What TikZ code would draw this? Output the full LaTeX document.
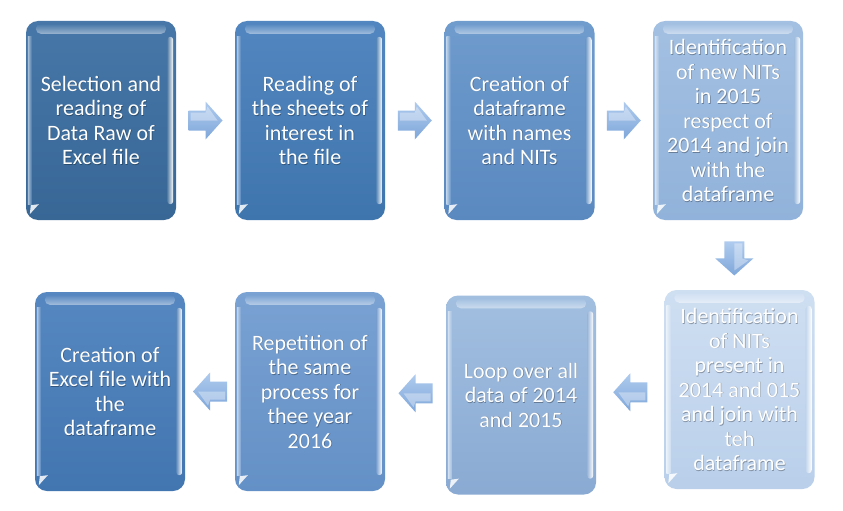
\documentclass[tikz,border=0pt]{standalone}
\usepackage{fontspec}
\setmainfont{Carlito}
\usetikzlibrary{calc}
\definecolor{c1t}{HTML}{4677A8}\definecolor{c1b}{HTML}{386796}
\definecolor{c2t}{HTML}{5286C0}\definecolor{c2b}{HTML}{3F75AD}
\definecolor{c3t}{HTML}{6F9BCD}\definecolor{c3b}{HTML}{5A89C0}
\definecolor{c4t}{HTML}{A3C0E2}\definecolor{c4b}{HTML}{91B2DA}
\definecolor{c5t}{HTML}{CFDFF2}\definecolor{c5b}{HTML}{B9CFEA}
\definecolor{c6t}{HTML}{A2BFE0}\definecolor{c6b}{HTML}{8AAAD3}
\definecolor{c7t}{HTML}{7AA2D3}\definecolor{c7b}{HTML}{6390C6}
\definecolor{c8t}{HTML}{5687C0}\definecolor{c8b}{HTML}{4276B0}
\definecolor{arrT}{HTML}{AFCBEE}\definecolor{arrB}{HTML}{7FA7DA}
\newcommand\gbox[5]{%
  \node[box,top color=#3,bottom color=#4] (#1) at (#2) {};
  \shade[top color=#3, bottom color=#3!55!white, rounded corners=5pt]
    ($(#1.north west)+(10,3)$) rectangle ($(#1.north east)+(-10,13)$);
  \shade[left color=#4!85!white, right color=white, rounded corners=3pt]
    ($(#1.north east)+(-9,16)$) rectangle ($(#1.south east)+(-3,-16)$);
  \shade[left color=white!55!#3, right color=#3]
    ($(#1.north west)+(2,16)$) rectangle ($(#1.south west)+(6,-16)$);
  \fill[white!85!#4] ($(#1.south west)+(4,-6)$) -- ($(#1.south west)+(5,-15)$)
    -- ($(#1.south west)+(13,-16)$) -- cycle;
  \node[boxtext,text=black!60!#4,opacity=0.5] at ([xshift=0.6pt,yshift=-0.6pt]#1.center) {#5};
  \node[boxtext] at (#1.center) {#5};
}
\begin{document}
\begin{tikzpicture}[x=1pt,y=-1pt,
  box/.style={rounded corners=12pt, minimum width=150pt, minimum height=199pt,
    inner sep=0pt},
  boxtext/.style={align=center, text=white, inner sep=0pt,
    font=\fontsize{22}{24.5}\selectfont},
  pics/blockarrow/.style={code={
    \shade[top color=arrT,bottom color=arrB]
      (-17,-10) -- (0,-10) -- (0,-19) -- (17,0) -- (0,19) -- (0,10) -- (-17,10) -- cycle;
    \fill[white,opacity=0.35] (-15,-8) -- (0,-8) -- (2,-14) -- (12,0) -- (0,0) -- (-15,0) -- cycle;
  }}]
\useasboundingbox[fill=white] (0,0) rectangle (843,511);

\gbox{b1}{101,120.5}{c1t}{c1b}{Selection and\\reading of\\Data Raw of\\Excel file}
\gbox{b2}{310,120.5}{c2t}{c2b}{Reading of\\the sheets of\\interest in\\the file}
\gbox{b3}{519.5,120.5}{c3t}{c3b}{Creation of\\dataframe\\with names\\and NITs}
\gbox{b4}{728,120.5}{c4t}{c4b}{Identification\\of new NITs\\in 2015\\respect of\\2014 and join\\with the\\dataframe}
\gbox{b5}{739.5,389.5}{c5t}{c5b}{Identification\\of NITs\\present in\\2014 and 015\\and join with\\teh\\dataframe}
\gbox{b6}{521,395}{c6t}{c6b}{Loop over all\\data of 2014\\and 2015}
\gbox{b7}{310,391.5}{c7t}{c7b}{Repetition of\\the same\\process for\\thee year\\2016}
\gbox{b8}{110,391.5}{c8t}{c8b}{Creation of\\Excel file with\\the\\dataframe}

\pic at ($(b1.east)!0.5!(b2.west)$) {blockarrow};
\pic at ($(b2.east)!0.5!(b3.west)$) {blockarrow};
\pic at ($(b3.east)!0.5!(b4.west)$) {blockarrow};
\pic[rotate=-90] at ($(b4.south)!0.55!(b5.north)$) {blockarrow};
\pic[rotate=180] at ($(b5.west)!0.5!(b6.east)$) {blockarrow};
\pic[rotate=180] at ($(b6.west)!0.5!(b7.east)$) {blockarrow};
\pic[rotate=180] at ($(b7.west)!0.5!(b8.east)$) {blockarrow};
\end{tikzpicture}
\end{document}
